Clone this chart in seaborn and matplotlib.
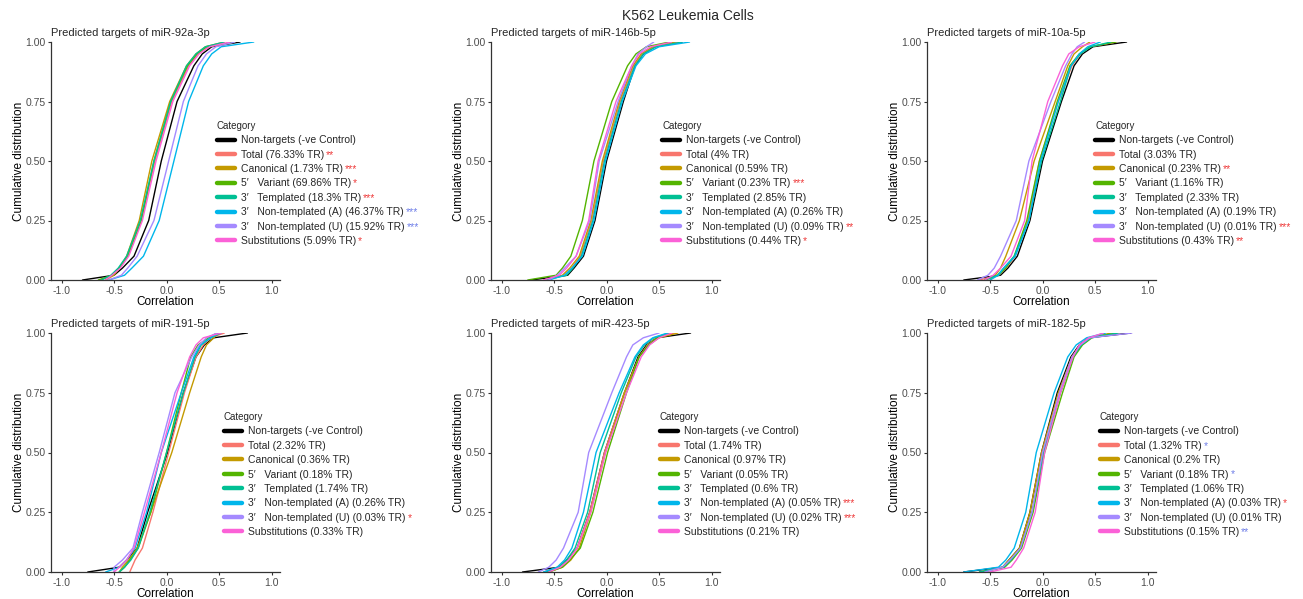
import numpy as np
import pandas as pd
import matplotlib
matplotlib.use("Agg")
import matplotlib.pyplot as plt
from matplotlib.lines import Line2D
import seaborn as sns

# ---------------- data ----------------
probs = [0, 0.02, 0.05, 0.10, 0.25, 0.50, 0.75, 0.90, 0.95, 0.98, 1.0]

categories = ["Non-targets (-ve Control)", "Total", "Canonical", "5\u2032   Variant",
              "3\u2032   Templated", "3\u2032   Non-templated (A)",
              "3\u2032   Non-templated (U)", "Substitutions"]
colors = ["#000000", "#F8766D", "#C49A00", "#53B400", "#00C094",
          "#00B6EB", "#A58AFF", "#FB61D7"]

mirnas = ["miR-92a-3p", "miR-146b-5p", "miR-10a-5p",
          "miR-191-5p", "miR-423-5p", "miR-182-5p"]

# correlation value reached at each cumulative level in `probs`, one row per category
q_mir92a = [
    [-0.80, -0.50, -0.42, -0.31, -0.17, -0.05, 0.10, 0.26, 0.34, 0.43, 0.70],
    [-0.62, -0.52, -0.45, -0.37, -0.24, -0.11, 0.05, 0.21, 0.30, 0.40, 0.65],
    [-0.58, -0.50, -0.45, -0.38, -0.26, -0.14, 0.03, 0.19, 0.28, 0.37, 0.55],
    [-0.65, -0.52, -0.45, -0.37, -0.24, -0.12, 0.04, 0.20, 0.29, 0.38, 0.65],
    [-0.62, -0.53, -0.46, -0.38, -0.25, -0.12, 0.04, 0.19, 0.28, 0.37, 0.55],
    [-0.55, -0.40, -0.33, -0.22, -0.07, 0.07, 0.21, 0.35, 0.43, 0.52, 0.83],
    [-0.55, -0.43, -0.37, -0.28, -0.12, 0.02, 0.16, 0.30, 0.38, 0.47, 0.65],
    [-0.58, -0.52, -0.44, -0.36, -0.23, -0.10, 0.06, 0.22, 0.31, 0.41, 0.60],
]
q_mir146b = [
    [-0.72, -0.37, -0.31, -0.22, -0.11, 0.00, 0.16, 0.27, 0.35, 0.46, 0.72],
    [-0.60, -0.40, -0.33, -0.25, -0.14, -0.03, 0.13, 0.26, 0.34, 0.45, 0.70],
    [-0.58, -0.42, -0.35, -0.26, -0.15, -0.04, 0.12, 0.25, 0.33, 0.44, 0.65],
    [-0.75, -0.48, -0.42, -0.34, -0.23, -0.12, 0.05, 0.20, 0.28, 0.38, 0.60],
    [-0.58, -0.38, -0.32, -0.24, -0.13, -0.02, 0.14, 0.27, 0.35, 0.47, 0.72],
    [-0.55, -0.40, -0.33, -0.23, -0.12, -0.01, 0.15, 0.28, 0.37, 0.50, 0.79],
    [-0.55, -0.47, -0.40, -0.29, -0.16, -0.07, 0.11, 0.24, 0.30, 0.38, 0.45],
    [-0.60, -0.45, -0.38, -0.29, -0.17, -0.08, 0.09, 0.24, 0.31, 0.42, 0.62],
]
q_mir10a = [
    [-0.75, -0.40, -0.33, -0.24, -0.12, 0.00, 0.18, 0.30, 0.38, 0.48, 0.80],
    [-0.60, -0.42, -0.35, -0.26, -0.14, -0.03, 0.15, 0.28, 0.36, 0.45, 0.70],
    [-0.50, -0.45, -0.40, -0.35, -0.22, -0.08, 0.12, 0.24, 0.30, 0.38, 0.45],
    [-0.55, -0.42, -0.35, -0.27, -0.15, -0.03, 0.14, 0.26, 0.35, 0.45, 0.70],
    [-0.55, -0.43, -0.37, -0.27, -0.13, -0.01, 0.17, 0.27, 0.36, 0.46, 0.65],
    [-0.50, -0.42, -0.37, -0.26, -0.13, -0.02, 0.15, 0.27, 0.35, 0.43, 0.55],
    [-0.62, -0.52, -0.46, -0.40, -0.25, -0.13, 0.08, 0.22, 0.28, 0.33, 0.40],
    [-0.55, -0.47, -0.40, -0.30, -0.17, -0.10, 0.05, 0.19, 0.25, 0.35, 0.50],
]
q_mir191 = [
    [-0.75, -0.45, -0.38, -0.28, -0.18, 0.01, 0.16, 0.28, 0.36, 0.45, 0.77],
    [-0.35, -0.33, -0.30, -0.23, -0.13, 0.02, 0.17, 0.28, 0.35, 0.42, 0.55],
    [-0.45, -0.42, -0.36, -0.28, -0.15, 0.05, 0.22, 0.33, 0.38, 0.45, 0.50],
    [-0.45, -0.40, -0.35, -0.27, -0.15, 0.00, 0.14, 0.23, 0.30, 0.40, 0.48],
    [-0.45, -0.40, -0.34, -0.27, -0.16, 0.00, 0.16, 0.27, 0.33, 0.42, 0.52],
    [-0.58, -0.45, -0.38, -0.30, -0.19, -0.05, 0.14, 0.26, 0.32, 0.42, 0.50],
    [-0.50, -0.50, -0.42, -0.32, -0.23, -0.07, 0.08, 0.24, 0.31, 0.38, 0.48],
    [-0.50, -0.45, -0.38, -0.31, -0.21, -0.05, 0.10, 0.22, 0.28, 0.35, 0.52],
]
q_mir423 = [
    [-0.80, -0.45, -0.38, -0.28, -0.16, -0.02, 0.17, 0.30, 0.38, 0.48, 0.80],
    [-0.60, -0.45, -0.37, -0.28, -0.16, -0.02, 0.17, 0.31, 0.39, 0.48, 0.65],
    [-0.55, -0.42, -0.34, -0.26, -0.15, -0.01, 0.17, 0.31, 0.40, 0.50, 0.68],
    [-0.55, -0.42, -0.35, -0.25, -0.13, 0.01, 0.19, 0.31, 0.40, 0.48, 0.60],
    [-0.58, -0.46, -0.38, -0.30, -0.18, -0.06, 0.14, 0.28, 0.36, 0.45, 0.60],
    [-0.60, -0.47, -0.40, -0.33, -0.22, -0.10, 0.12, 0.27, 0.35, 0.44, 0.58],
    [-0.65, -0.55, -0.48, -0.41, -0.27, -0.17, 0.05, 0.19, 0.25, 0.35, 0.50],
    [-0.55, -0.44, -0.36, -0.28, -0.15, -0.01, 0.19, 0.33, 0.41, 0.50, 0.62],
]
q_mir182 = [
    [-0.75, -0.38, -0.32, -0.22, -0.12, -0.01, 0.14, 0.27, 0.35, 0.44, 0.84],
    [-0.60, -0.37, -0.30, -0.21, -0.10, 0.01, 0.17, 0.29, 0.37, 0.46, 0.72],
    [-0.55, -0.38, -0.32, -0.22, -0.12, -0.01, 0.15, 0.28, 0.36, 0.45, 0.65],
    [-0.60, -0.36, -0.29, -0.20, -0.09, 0.02, 0.19, 0.30, 0.38, 0.47, 0.70],
    [-0.60, -0.37, -0.30, -0.21, -0.10, 0.01, 0.17, 0.29, 0.37, 0.46, 0.72],
    [-0.75, -0.42, -0.35, -0.27, -0.16, -0.06, 0.11, 0.24, 0.32, 0.42, 0.60],
    [-0.55, -0.38, -0.31, -0.21, -0.10, 0.00, 0.16, 0.28, 0.36, 0.45, 0.85],
    [-0.50, -0.30, -0.25, -0.18, -0.07, 0.02, 0.17, 0.29, 0.35, 0.44, 0.58],
]

# % target reduction shown in the legend (categories 2..8)
tr_mir92a = ["76.33", "1.73", "69.86", "18.3", "46.37", "15.92", "5.09"]
tr_mir146b = ["4", "0.59", "0.23", "2.85", "0.26", "0.09", "0.44"]
tr_mir10a = ["3.03", "0.23", "1.16", "2.33", "0.19", "0.01", "0.43"]
tr_mir191 = ["2.32", "0.36", "0.18", "1.74", "0.26", "0.03", "0.33"]
tr_mir423 = ["1.74", "0.97", "0.05", "0.6", "0.05", "0.02", "0.21"]
tr_mir182 = ["1.32", "0.2", "0.18", "1.06", "0.03", "0.01", "0.15"]

# significance marks (r = red, b = blue)
sig_mir92a = ["**r", "***r", "*r", "***r", "***b", "***b", "*r"]
sig_mir146b = ["", "", "***r", "", "", "**r", "*r"]
sig_mir10a = ["", "**r", "", "", "", "***r", "**r"]
sig_mir191 = ["", "", "", "", "", "*r", ""]
sig_mir423 = ["", "", "", "", "***r", "***r", ""]
sig_mir182 = ["*b", "", "*b", "", "*r", "", "**b"]

quantiles = [q_mir92a, q_mir146b, q_mir10a, q_mir191, q_mir423, q_mir182]
trs = [tr_mir92a, tr_mir146b, tr_mir10a, tr_mir191, tr_mir423, tr_mir182]
sigs = [sig_mir92a, sig_mir146b, sig_mir10a, sig_mir191, sig_mir423, sig_mir182]

# ---------------- style ----------------
sns.set_theme(style="ticks")
plt.rcParams['font.family'] = ['Liberation Sans', 'DejaVu Sans']

W, H = 1303, 599
fig = plt.figure(figsize=(W / 100, H / 100), dpi=100)

ax_left_px = [51, 491, 927]
row_px = [(42, 280), (333, 572)]
ax_w_px = 229
legend_x_px = [217, 662, 1095, 224, 660, 1100]
legend_top_px = [121, 412]
star_colors = {"r": "#EE3B3B", "b": "#6F7FE8"}
text_gray = "#4D4D4D"

legends = []
for i, mir in enumerate(mirnas):
    r, c = divmod(i, 3)
    top, bot = row_px[r]
    ax = fig.add_axes([ax_left_px[c] / W, 1 - bot / H, ax_w_px / W, (bot - top) / H])

    rows = []
    for k, cat in enumerate(categories):
        for p, v in zip(probs, quantiles[i][k]):
            rows.append({"Correlation": v, "Cumulative": p, "Category": cat})
    df = pd.DataFrame(rows)
    sns.lineplot(data=df, x="Correlation", y="Cumulative", hue="Category",
                 hue_order=categories, palette=colors, estimator=None,
                 sort=False, linewidth=1.0, legend=False, ax=ax)

    ax.set_xlim(-1.1, 1.08)
    ax.set_ylim(0, 1)
    ax.set_xticks([-1.0, -0.5, 0.0, 0.5, 1.0])
    ax.set_xticklabels(["-1.0", "-0.5", "0.0", "0.5", "1.0"])
    ax.set_yticks([0, 0.25, 0.5, 0.75, 1.0])
    ax.set_yticklabels(["0.00", "0.25", "0.50", "0.75", "1.00"])
    ax.tick_params(labelsize=7.5, colors="#333333", labelcolor=text_gray,
                   length=2.5, width=0.8, pad=1.5)
    for s in ["left", "bottom"]:
        ax.spines[s].set_color("#333333")
        ax.spines[s].set_linewidth(0.9)
    sns.despine(ax=ax)
    ax.set_xlabel("Correlation", fontsize=8.5, labelpad=0, color="black")
    ax.set_ylabel("Cumulative distribution", fontsize=8.5, labelpad=0, color="black")
    ax.set_title(f"Predicted targets of {mir}", fontsize=8, loc="left", pad=4)

    handles = [Line2D([0], [0], color=col, lw=3.2) for col in colors]
    labels = [categories[0]] + [f"{categories[k + 1]} ({trs[i][k]}% TR)" for k in range(7)]
    leg = fig.legend(handles, labels, title="Category", loc="upper left",
                     bbox_to_anchor=(legend_x_px[i] / W, 1 - legend_top_px[r] / H),
                     bbox_transform=fig.transFigure, frameon=False, fontsize=7.5,
                     title_fontsize=7, borderpad=0, borderaxespad=0,
                     handlelength=1.7, handletextpad=0.6, labelspacing=0.42)
    leg._legend_box.align = "left"
    legends.append(leg)

fig.text(688 / W, 1 - 16 / H, "K562 Leukemia Cells", ha="center", va="center", fontsize=10)

# significance stars appended after legend labels
fig.canvas.draw()
inv = fig.transFigure.inverted()
for i, leg in enumerate(legends):
    texts = leg.get_texts()
    for k, s in enumerate(sigs[i]):
        if not s:
            continue
        t = texts[k + 1]
        bb = t.get_window_extent()
        x, y = inv.transform((bb.x1 + 2, bb.y0))
        fig.text(x, y, s[:-1], color=star_colors[s[-1]], fontsize=7.5,
                 ha="left", va="bottom")

fig.savefig("out.png", dpi=100)
